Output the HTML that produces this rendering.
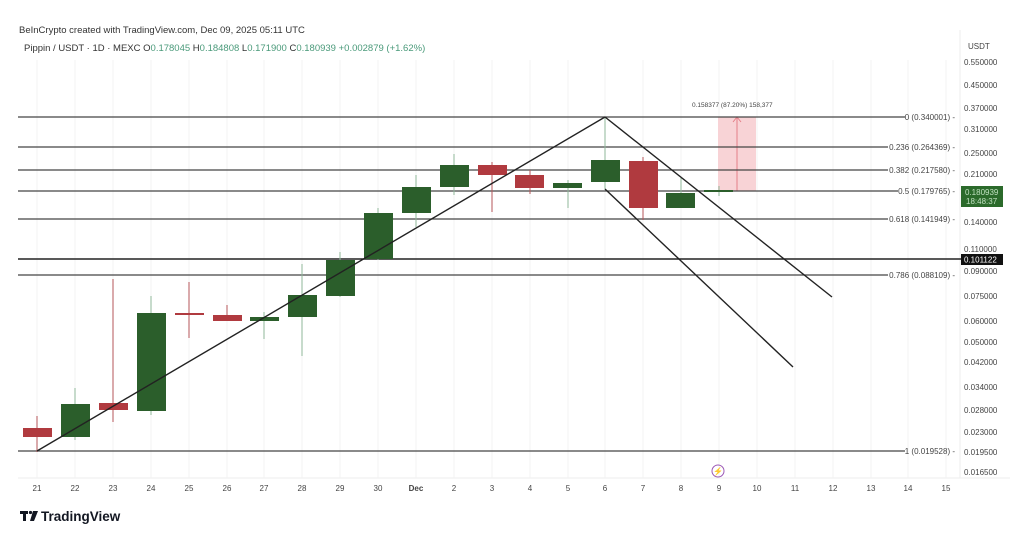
<!DOCTYPE html>
<html><head><meta charset="utf-8"><style>
html,body{margin:0;padding:0;background:#fff;}
svg{display:block;font-family:"Liberation Sans",sans-serif;}
</style></head><body>
<svg width="1024" height="533" viewBox="0 0 1024 533" xmlns="http://www.w3.org/2000/svg">
<rect width="1024" height="533" fill="#fff"/>
<text x="19" y="33" font-size="9.5" fill="#333">BeInCrypto created with TradingView.com, Dec 09, 2025 05:11 UTC</text>
<text x="24" y="51" font-size="9.5" fill="#333">Pippin / USDT · 1D · MEXC  <tspan>O</tspan><tspan fill="#4a9a7a">0.178045</tspan>  H<tspan fill="#4a9a7a">0.184808</tspan>  L<tspan fill="#4a9a7a">0.171900</tspan>  C<tspan fill="#4a9a7a">0.180939</tspan>  <tspan fill="#4a9a7a">+0.002879 (+1.62%)</tspan></text>
<!-- grid verticals -->
<g stroke="#f3f3f3" stroke-width="1">
<line x1="37" y1="60" x2="37" y2="478"/><line x1="75" y1="60" x2="75" y2="478"/><line x1="113" y1="60" x2="113" y2="478"/><line x1="151" y1="60" x2="151" y2="478"/><line x1="189" y1="60" x2="189" y2="478"/><line x1="227" y1="60" x2="227" y2="478"/><line x1="264" y1="60" x2="264" y2="478"/><line x1="302" y1="60" x2="302" y2="478"/><line x1="340" y1="60" x2="340" y2="478"/><line x1="378" y1="60" x2="378" y2="478"/><line x1="416" y1="60" x2="416" y2="478"/><line x1="454" y1="60" x2="454" y2="478"/><line x1="492" y1="60" x2="492" y2="478"/><line x1="530" y1="60" x2="530" y2="478"/><line x1="568" y1="60" x2="568" y2="478"/><line x1="605" y1="60" x2="605" y2="478"/><line x1="643" y1="60" x2="643" y2="478"/><line x1="681" y1="60" x2="681" y2="478"/><line x1="719" y1="60" x2="719" y2="478"/><line x1="757" y1="60" x2="757" y2="478"/><line x1="795" y1="60" x2="795" y2="478"/><line x1="833" y1="60" x2="833" y2="478"/><line x1="871" y1="60" x2="871" y2="478"/><line x1="908" y1="60" x2="908" y2="478"/><line x1="946" y1="60" x2="946" y2="478"/>
</g>
<line x1="18" y1="478" x2="1010" y2="478" stroke="#eee"/>
<line x1="960" y1="30" x2="960" y2="478" stroke="#eee"/>
<!-- pink box -->
<rect x="718" y="117" width="38" height="74" fill="#f8d3d6"/>
<line x1="737" y1="191" x2="737" y2="118" stroke="#e57f88" stroke-width="1"/>
<path d="M733 122 L737 117 L741 122" fill="none" stroke="#e57f88" stroke-width="1"/>
<text x="692" y="107" font-size="6.5" fill="#444">0.158377 (87.20%) 158,377</text>
<!-- fib lines -->
<g stroke="#444" stroke-width="1.3">
<line x1="18" y1="117" x2="905" y2="117"/>
<line x1="18" y1="147" x2="888" y2="147"/>
<line x1="18" y1="170" x2="888" y2="170"/>
<line x1="18" y1="191" x2="898" y2="191"/>
<line x1="18" y1="219" x2="888" y2="219"/>
<line x1="18" y1="275" x2="888" y2="275"/>
<line x1="18" y1="451" x2="905" y2="451"/>
</g>
<line x1="18" y1="259" x2="962" y2="259" stroke="#222" stroke-width="1.5"/>
<g font-size="8" fill="#444" text-anchor="end">
<text x="955" y="120">0 (0.340001) -</text>
<text x="955" y="150">0.236 (0.264369) -</text>
<text x="955" y="173">0.382 (0.217580) -</text>
<text x="955" y="194">0.5 (0.179765) -</text>
<text x="955" y="222">0.618 (0.141949) -</text>
<text x="955" y="278">0.786 (0.088109) -</text>
<text x="955" y="454">1 (0.019528) -</text>
</g>
<!-- candles -->
<g stroke-width="1">
<!-- wicks -->
<g stroke="#b5555a">
<line x1="37" y1="416" x2="37" y2="452"/><line x1="113" y1="279" x2="113" y2="422"/><line x1="189" y1="282" x2="189" y2="338"/><line x1="227" y1="305" x2="227" y2="321"/><line x1="492" y1="162" x2="492" y2="212"/><line x1="530" y1="170" x2="530" y2="194"/><line x1="643" y1="157" x2="643" y2="220"/>
</g>
<g stroke="#8fb79a">
<line x1="75" y1="388" x2="75" y2="440"/><line x1="151" y1="296" x2="151" y2="415"/><line x1="264" y1="312" x2="264" y2="339"/><line x1="302" y1="264" x2="302" y2="356"/><line x1="340" y1="252" x2="340" y2="297"/><line x1="378" y1="208" x2="378" y2="260"/><line x1="416" y1="175" x2="416" y2="227"/><line x1="454" y1="154" x2="454" y2="195"/><line x1="568" y1="180" x2="568" y2="208"/><line x1="605" y1="117" x2="605" y2="189"/><line x1="681" y1="178" x2="681" y2="208"/><line x1="719" y1="186" x2="719" y2="196"/>
</g>
<g fill="#b03a3f">
<rect x="23" y="428" width="29" height="9"/><rect x="99" y="403" width="29" height="7"/><rect x="175" y="313" width="29" height="2"/><rect x="213" y="315" width="29" height="6"/><rect x="478" y="165" width="29" height="10"/><rect x="515" y="175" width="29" height="13"/><rect x="629" y="161" width="29" height="47"/>
</g>
<g fill="#2b5e2b">
<rect x="61" y="404" width="29" height="33"/><rect x="137" y="313" width="29" height="98"/><rect x="250" y="317" width="29" height="4"/><rect x="288" y="295" width="29" height="22"/><rect x="326" y="260" width="29" height="36"/><rect x="364" y="213" width="29" height="46"/><rect x="402" y="187" width="29" height="26"/><rect x="440" y="165" width="29" height="22"/><rect x="553" y="183" width="29" height="5"/><rect x="591" y="160" width="29" height="22"/><rect x="666" y="193" width="29" height="15"/><rect x="704" y="190" width="29" height="2"/>
</g>
</g>
<!-- trend lines -->
<g stroke="#222" stroke-width="1.4">
<line x1="37" y1="451" x2="605" y2="117"/>
<line x1="605" y1="117" x2="832" y2="297"/>
<line x1="605" y1="189" x2="793" y2="367"/>
</g>
<!-- price axis -->
<g font-size="8" fill="#444">
<text x="968" y="49">USDT</text>
<text x="964" y="65">0.550000</text>
<text x="964" y="88">0.450000</text>
<text x="964" y="111">0.370000</text>
<text x="964" y="132">0.310000</text>
<text x="964" y="156">0.250000</text>
<text x="964" y="177">0.210000</text>
<text x="964" y="225">0.140000</text>
<text x="964" y="252">0.110000</text>
<text x="964" y="274">0.090000</text>
<text x="964" y="299">0.075000</text>
<text x="964" y="324">0.060000</text>
<text x="964" y="345">0.050000</text>
<text x="964" y="365">0.042000</text>
<text x="964" y="390">0.034000</text>
<text x="964" y="413">0.028000</text>
<text x="964" y="435">0.023000</text>
<text x="964" y="455">0.019500</text>
<text x="964" y="475">0.016500</text>
</g>
<rect x="961" y="186" width="42" height="21" fill="#2b6a2b"/>
<text x="965" y="195" font-size="8" fill="#bfe0bf">0.180939</text>
<text x="966" y="204" font-size="8" fill="#bfe0bf">18:48:37</text>
<rect x="961" y="254" width="42" height="11" fill="#111"/>
<text x="964" y="262.5" font-size="8" fill="#fff">0.101122</text>
<!-- lightning -->
<circle cx="718" cy="471" r="6" fill="none" stroke="#9b59b6" stroke-width="1"/>
<text x="718" y="474" font-size="8" fill="#9b59b6" text-anchor="middle">⚡</text>
<!-- x axis -->
<g font-size="8" fill="#444" text-anchor="middle">
<text x="37" y="491">21</text><text x="75" y="491">22</text><text x="113" y="491">23</text><text x="151" y="491">24</text><text x="189" y="491">25</text><text x="227" y="491">26</text><text x="264" y="491">27</text><text x="302" y="491">28</text><text x="340" y="491">29</text><text x="378" y="491">30</text><text x="416" y="491" font-weight="bold">Dec</text><text x="454" y="491">2</text><text x="492" y="491">3</text><text x="530" y="491">4</text><text x="568" y="491">5</text><text x="605" y="491">6</text><text x="643" y="491">7</text><text x="681" y="491">8</text><text x="719" y="491">9</text><text x="757" y="491">10</text><text x="795" y="491">11</text><text x="833" y="491">12</text><text x="871" y="491">13</text><text x="908" y="491">14</text><text x="946" y="491">15</text>
</g>
<!-- logo -->
<g fill="#131722">
<rect x="20" y="511" width="8" height="3"/><rect x="23" y="511" width="3" height="10"/>
<circle cx="30.5" cy="512.5" r="1.6"/>
<path d="M33 511 L38 511 L34 521 L30 521 Z"/>
</g>
<text x="41" y="521" font-size="13.5" font-weight="bold" fill="#131722">TradingView</text>
</svg>
</body></html>
